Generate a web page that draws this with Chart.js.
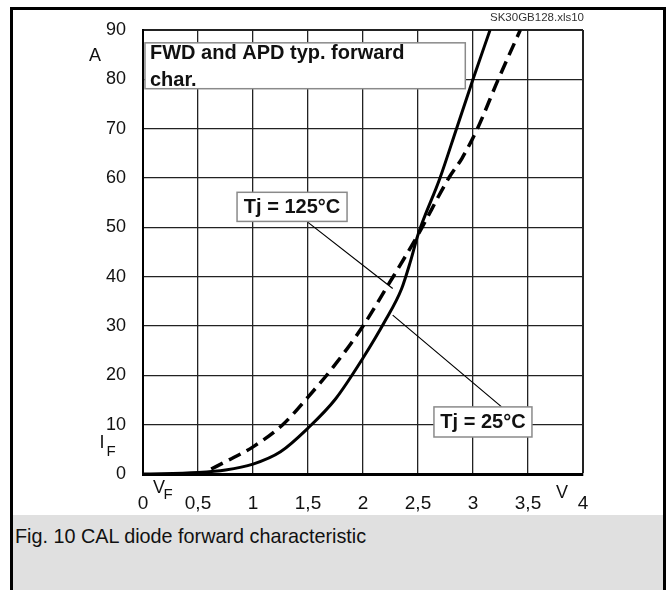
<!DOCTYPE html>
<html>
<head>
<meta charset="utf-8">
<script src="https://cdn.jsdelivr.net/npm/chart.js@4/dist/chart.umd.min.js"></script>
<style>
  body { margin: 0; background: #fff; }
  #wrap { position: relative; width: 670px; height: 590px; overflow: hidden; font-family: "Liberation Sans", Arial, sans-serif; }
  #caption { position: absolute; left: 13px; top: 515px; width: 650px; height: 80px; background: #e0e0e0; }
  #caption span { position: absolute; left: 2px; top: 10px; font-size: 19.8px; color: #111; }
  #frame { position: absolute; left: 10px; top: 7px; width: 656px; height: 620px; border: 3px solid #000; box-sizing: border-box; }
  #chart { position: absolute; left: 0; top: 0; }
</style>
</head>
<body>
<div id="wrap">
  <div id="caption"><span>Fig. 10 CAL diode forward characteristic</span></div>
  <div id="frame"></div>
  <canvas id="chart" width="670" height="590"></canvas>
</div>
<script>
// forward voltage (V) / forward current (A)
const vf25 = [0, 0.5, 0.75, 1.0, 1.25, 1.5, 1.75, 2.0, 2.2, 2.35, 2.43, 2.5, 2.7, 2.85, 3.0, 3.155];
const if25 = [0, 0.3, 0.8, 2, 4.5, 9.3, 15.2, 23.5, 31, 37.5, 43, 48.5, 60, 70, 80, 90];

const vf125 = [0.62, 0.75, 1.0, 1.27, 1.5, 1.73, 2.0, 2.22, 2.5, 2.78, 2.9, 3.04, 3.23, 3.43];
const if125 = [1, 2.5, 5.5, 10, 15.6, 21.7, 30, 38, 48.5, 60, 64, 70, 80, 90];

const xMin = 0, xMax = 4, xStep = 0.5;
const yMin = 0, yMax = 90, yStep = 10;

const fileTag = 'SK30GB128.xls10';
const titleLines = ['FWD and APD typ. forward', 'char.'];
const label125 = 'Tj = 125\u00b0C';
const label25 = 'Tj = 25\u00b0C';

function toPoints(xs, ys) {
    return xs.map((x, i) => ({ x: x, y: ys[i] }));
}

const FONT = '"Liberation Sans", Arial, sans-serif';

function drawBox(ctx, x0, y0, x1, y1) {
    ctx.save();
    ctx.fillStyle = '#fff';
    ctx.fillRect(x0, y0, x1 - x0, y1 - y0);
    ctx.strokeStyle = '#8a8a8a';
    ctx.lineWidth = 1.5;
    ctx.strokeRect(x0, y0, x1 - x0, y1 - y0);
    ctx.restore();
}

const notesPlugin = {
    id: 'notes',
    afterDatasetsDraw(chart) {
        const ctx = chart.ctx;
        const sx = chart.scales.x, sy = chart.scales.y;
        const px = v => sx.getPixelForValue(v);
        const py = v => sy.getPixelForValue(v);

        // pointer lines
        ctx.save();
        ctx.strokeStyle = '#000';
        ctx.lineWidth = 1.2;
        ctx.beginPath();
        ctx.moveTo(px(1.5), py(51));
        ctx.lineTo(px(2.27), py(37.6));
        ctx.moveTo(px(2.27), py(32.2));
        ctx.lineTo(px(3.26), py(13.6));
        ctx.stroke();
        ctx.restore();

        // title box
        drawBox(ctx, px(0.018), py(87.4), px(2.93), py(78.1));
        ctx.save();
        ctx.fillStyle = '#111';
        ctx.font = 'bold 20px ' + FONT;
        ctx.textBaseline = 'middle';
        ctx.fillText(titleLines[0], px(0.018) + 5, py(87.4) + 11);
        ctx.fillText(titleLines[1], px(0.018) + 5, py(87.4) + 38);
        ctx.restore();

        // temperature labels
        drawBox(ctx, px(0.855), py(57.1), px(1.855), py(51.2));
        drawBox(ctx, px(2.645), py(13.6), px(3.536), py(7.5));
        ctx.save();
        ctx.fillStyle = '#111';
        ctx.font = 'bold 20px ' + FONT;
        ctx.textBaseline = 'middle';
        ctx.textAlign = 'center';
        ctx.fillText(label125, (px(0.855) + px(1.855)) / 2, (py(57.1) + py(51.2)) / 2 + 1);
        ctx.fillText(label25, (px(2.645) + px(3.536)) / 2, (py(13.6) + py(7.5)) / 2 + 1);
        ctx.restore();

        // axis units and symbols
        ctx.save();
        ctx.fillStyle = '#111';
        ctx.font = '18px ' + FONT;
        ctx.textBaseline = 'middle';
        ctx.textAlign = 'center';
        ctx.fillText('A', 95, 56);
        ctx.fillText('I', 102, 443);
        ctx.fillText('V', 159, 488);
        ctx.fillText('V', 562, 493);
        ctx.font = '15px ' + FONT;
        ctx.fillText('F', 111, 452);
        ctx.fillText('F', 168, 495);
        ctx.font = '11.5px ' + FONT;
        ctx.fillStyle = '#333';
        ctx.textAlign = 'right';
        ctx.fillText(fileTag, 584, 18);
        ctx.restore();
    }
};

new Chart(document.getElementById('chart'), {
    type: 'scatter',
    data: {
        datasets: [
            {
                label: 'Tj = 25\u00b0C',
                data: toPoints(vf25, if25),
                showLine: true,
                borderColor: '#000',
                borderWidth: 3,
                pointRadius: 0,
                cubicInterpolationMode: 'monotone'
            },
            {
                label: 'Tj = 125\u00b0C',
                data: toPoints(vf125, if125),
                showLine: true,
                borderColor: '#000',
                borderWidth: 3.5,
                borderDash: [13, 7],
                pointRadius: 0,
                cubicInterpolationMode: 'monotone'
            }
        ]
    },
    options: {
        responsive: false,
        animation: false,
        layout: { padding: { left: 10, top: 30, right: 87, bottom: 0 } },
        plugins: {
            legend: { display: false },
            tooltip: { enabled: false }
        },
        scales: {
            x: {
                type: 'linear',
                min: xMin, max: xMax,
                afterFit: s => { s.height = 116; },
                ticks: {
                    stepSize: xStep,
                    color: '#111',
                    font: { size: 19, family: FONT },
                    padding: 18,
                    maxRotation: 0,
                    callback: v => String(v).replace('.', ',')
                },
                grid: {
                    color: '#222',
                    lineWidth: c => (c.tick && c.tick.value === xMax ? 2 : 1.3),
                    drawTicks: false
                },
                border: { display: true, color: '#000', width: 3 }
            },
            y: {
                min: yMin, max: yMax,
                afterFit: s => { s.width = 133; },
                ticks: {
                    stepSize: yStep,
                    color: '#111',
                    font: { size: 18, family: FONT },
                    padding: 17
                },
                grid: {
                    color: '#222',
                    lineWidth: c => (c.tick && c.tick.value === yMax ? 2 : 1.3),
                    drawTicks: false
                },
                border: { display: true, color: '#000', width: 2 }
            }
        }
    },
    plugins: [notesPlugin]
});
</script>
</body>
</html>
